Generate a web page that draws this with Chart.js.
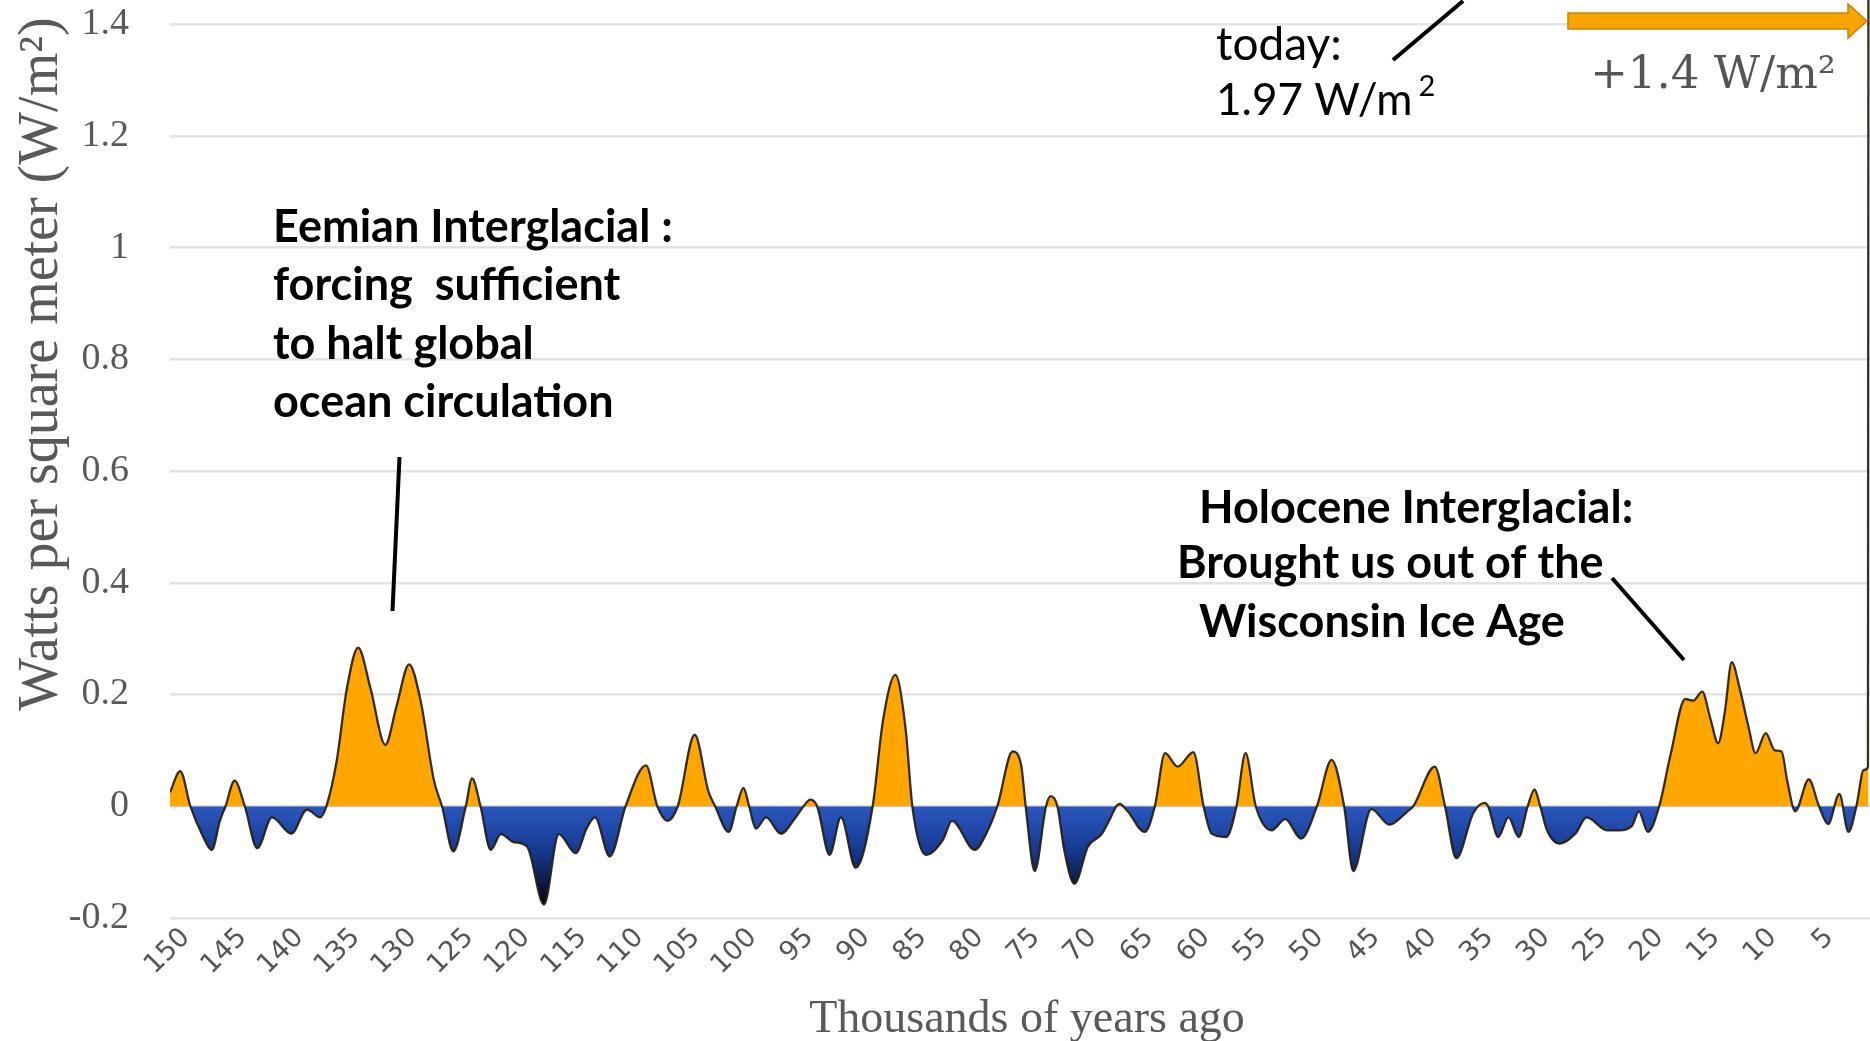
<!DOCTYPE html>
<html>
<head>
<meta charset="utf-8">
<script src="https://cdn.jsdelivr.net/npm/chart.js@4.4.1/dist/chart.umd.min.js"></script>
<style>
  html,body{margin:0;padding:0;background:#fff;}
  #wrap{position:relative;width:1870px;height:1041px;}
</style>
</head>
<body>
<div id="wrap"><canvas id="chart"></canvas></div>
<script>
// thousands of years ago (left = 150k, right = today)
const ages = [
  150.0,149.1,148.2,147.2,146.3,145.6,145.1,144.3,143.4,142.3,141.0,139.3,137.9,136.75,136.2,
  135.3,134.4,133.4,132.3,131.0,130.0,128.9,127.9,126.7,126.0,125.0,123.9,123.35,122.6,
  121.7,120.8,119.7,118.5,117.0,115.7,114.2,113.2,112.5,111.2,109.8,108.0,107.0,106.1,105.2,
  103.7,102.5,101.9,100.7,100.0,99.4,98.9,98.3,97.4,96.1,94.8,94.1,93.5,92.9,91.8,90.8,89.5,
  88.0,87.1,86.0,85.1,84.5,83.3,81.8,81.0,79.0,78.0,77.0,75.65,74.9,74.5,73.7,72.7,72.3,71.7,
  71.1,70.2,69.0,67.8,67.0,66.5,66.2,65.5,64.0,63.1,62.2,61.1,59.7,58.8,58.1,56.8,55.9,55.1,
  54.2,52.8,51.6,50.2,48.8,47.5,46.4,45.6,44.0,42.4,40.8,40.3,38.4,37.5,36.5,35.0,34.0,33.7,
  32.8,31.9,31.0,30.2,29.6,29.1,28.5,27.4,26.0,25.0,23.2,22.1,21.0,20.4,19.6,18.6,17.6,16.3,
  15.6,14.8,14.1,13.4,12.8,12.2,11.5,10.7,10.1,9.2,8.4,7.8,7.3,6.6,5.4,4.5,3.7,2.7,1.9,1.2,
  0.55,0.18,0.13
];
// radiative forcing, W/m2
const forcing = [
  0.025,0.063,0.0,-0.049,-0.078,-0.026,0.0,0.046,0.0,-0.075,-0.02,-0.049,-0.006,-0.02,0.0,
  0.08,0.21,0.284,0.21,0.11,0.18,0.254,0.19,0.045,0.0,-0.081,0.0,0.05,0.0,
  -0.078,-0.05,-0.064,-0.072,-0.176,-0.05,-0.084,-0.038,-0.02,-0.09,0.0,0.073,0.0,-0.026,0.0,
  0.128,0.027,0.0,-0.046,0.0,0.033,0.0,-0.04,-0.02,-0.049,-0.02,0.0,0.012,0.0,-0.087,-0.02,-0.11,
  0.0,0.152,0.235,0.14,0.0,-0.087,-0.06,-0.026,-0.078,-0.05,0.0,0.098,0.074,0.0,-0.116,0.0,0.018,0.0,
  -0.078,-0.139,-0.072,-0.05,-0.02,0.0,0.004,-0.009,-0.046,0.0,0.095,0.071,0.097,0.0,-0.049,-0.055,0.0,0.095,
  0.0,-0.043,-0.023,-0.058,0.0,0.083,0.0,-0.116,-0.005,-0.033,-0.009,0.0,0.071,0.0,-0.093,-0.012,0.006,0.0,
  -0.055,-0.02,-0.055,0.0,0.03,0.0,-0.043,-0.067,-0.049,-0.02,-0.043,-0.043,-0.035,-0.009,-0.046,0.0,0.092,0.192,
  0.189,0.205,0.158,0.113,0.17,0.258,0.211,0.14,0.095,0.131,0.10,0.098,0.045,-0.009,0.048,0.0,-0.032,0.022,-0.046,0.0,
  0.065,0.07,1.97
];
const xTicks = [150,145,140,135,130,125,120,115,110,105,100,95,90,85,80,75,70,65,60,55,50,45,40,35,30,25,20,15,10,5];
const yTicks = [-0.2,0,0.2,0.4,0.6,0.8,1,1.2,1.4];

const colors = {
  orange:'#FFA600', blue:'#2B57C0', navy:'#16398F', dark:'#02040c',
  line:'rgba(38,30,14,0.92)', grid:'#e3e3e3', axis:'#595959', tick:'#555555'
};

const blueFade = (c) => {
  const {ctx, chartArea, scales} = c.chart;
  if(!chartArea) return colors.blue;
  const y0 = scales.y.getPixelForValue(0), y1 = scales.y.getPixelForValue(-0.18);
  const g = ctx.createLinearGradient(0,y0,0,y1);
  g.addColorStop(0, colors.blue);
  g.addColorStop(0.45, colors.navy);
  g.addColorStop(1, colors.dark);
  return g;
};

const drawLine = (c, x1, y1, x2, y2, w) => {
  c.beginPath(); c.moveTo(x1,y1); c.lineTo(x2,y2);
  c.lineWidth = w; c.strokeStyle = '#000'; c.lineCap = 'butt'; c.stroke();
};

const notes = {
  id:'notes',
  afterDraw(chart){
    const c = chart.ctx;
    c.save();
    c.textBaseline = 'middle';

    // axis titles
    c.fillStyle = colors.axis;
    c.font = "46px 'Liberation Serif', serif";
    c.textAlign = 'center';
    c.fillText('Thousands of years ago', 1027, 1020);
    c.save();
    c.translate(42, 364); c.rotate(-Math.PI/2);
    c.font = "56px 'Liberation Serif', serif";
    c.fillText('Watts per square meter (W/m²)', 0, 0);
    c.restore();

    // Eemian
    c.fillStyle = '#000'; c.textAlign = 'left';
    c.font = "bold 45px Lato, sans-serif";
    ['Eemian Interglacial :','forcing  sufficient','to halt global','ocean circulation']
      .forEach((t,i)=>c.fillText(t, 273, 227 + i*58.5));
    drawLine(c, 399.5, 457, 392.5, 611, 4);

    // Holocene
    c.fillText('Holocene Interglacial:', 1199, 508);
    c.fillText('Brought us out of the', 1177, 563);
    c.fillText('Wisconsin Ice Age', 1199, 622);
    drawLine(c, 1612, 578, 1684, 660, 4);

    // today
    c.font = "46px Lato, sans-serif";
    c.fillText('today:', 1216, 45);
    c.font = "44px Lato, sans-serif";
    c.fillText('1.97 W/m', 1216, 101);
    const w = c.measureText('1.97 W/m').width;
    c.font = "29px Lato, sans-serif";
    c.fillText('2', 1216 + w + 6, 87);
    drawLine(c, 1393, 60, 1463, 1, 4);

    // orange arrow
    c.beginPath();
    c.moveTo(1568,13); c.lineTo(1848,13); c.lineTo(1848,4); c.lineTo(1867,21);
    c.lineTo(1848,38); c.lineTo(1848,29); c.lineTo(1568,29); c.closePath();
    c.fillStyle = '#F7A400'; c.fill();
    c.lineWidth = 1.5; c.strokeStyle = '#c78500'; c.stroke();

    c.fillStyle = '#555';
    c.textAlign = 'center';
    c.font = "45px 'DejaVu Serif', serif";
    c.fillText('+1.4 W/m²', 1713, 76);
    c.restore();
  }
};

const points = ages.map((a,i)=>({x:a, y:forcing[i]}));

new Chart(document.getElementById('chart'), {
  type:'line',
  data:{ datasets:[{
    data:points,
    borderColor:colors.line, borderWidth:2.3,
    backgroundColor:blueFade,
    fill:{ target:'origin', above:colors.orange },
    pointRadius:0, cubicInterpolationMode:'monotone'
  }]},
  options:{
    responsive:true, maintainAspectRatio:false, animation:false,
    layout:{ padding:0 },
    plugins:{ legend:{display:false}, tooltip:{enabled:false} },
    scales:{
      x:{
        type:'linear', reverse:true, min:0, max:150,
        afterBuildTicks: s => { s.ticks = xTicks.map(v=>({value:v})); },
        afterFit: s => { s.height = 123; s.paddingLeft = 0; s.paddingRight = 0; },
        grid:{display:false}, border:{display:false},
        ticks:{ autoSkip:false, maxRotation:45, minRotation:45, padding:-4, labelOffset:16,
          color:colors.tick, font:{family:"'DejaVu Sans', sans-serif", size:27} }
      },
      y:{
        min:-0.2, max:1.443,
        afterBuildTicks: s => { s.ticks = yTicks.map(v=>({value:v})); },
        afterFit: s => { s.width = 170; s.paddingTop = 0; s.paddingBottom = 0; },
        grid:{ color:colors.grid, lineWidth:2.5, drawTicks:true, tickLength:41, tickColor:'rgba(0,0,0,0)' },
        border:{display:false},
        ticks:{ padding:0, color:colors.axis, font:{family:"'Liberation Serif', serif", size:38},
          callback: v => String(Math.round(v*10)/10) }
      }
    }
  },
  plugins:[notes]
});
</script>
</body>
</html>
